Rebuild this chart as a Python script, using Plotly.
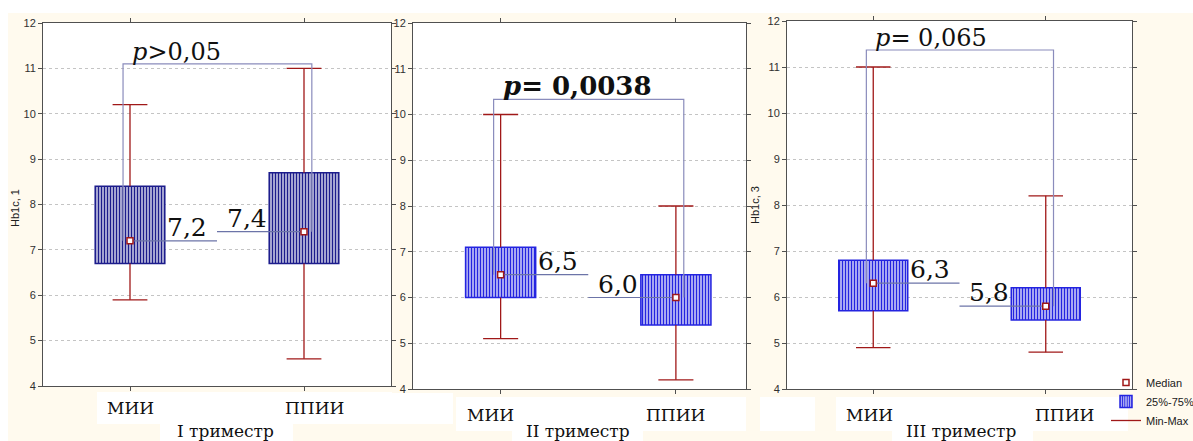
import plotly.graph_objects as go

# ---------------- data ----------------
categories = ["МИИ", "ППИИ"]
trimesters = ["I триместр", "II триместр", "III триместр"]
y_titles = ["Hb1c, 1", "", "Hb1c, 3"]

q1_values = [[6.7, 6.7], [6.0, 5.4], [5.7, 5.5]]
q3_values = [[8.4, 8.7], [7.1, 6.5], [6.8, 6.2]]
median_values = [[7.2, 7.4], [6.5, 6.0], [6.3, 5.8]]
min_values = [[5.9, 4.6], [5.1, 4.2], [4.9, 4.8]]
max_values = [[10.2, 11.0], [10.0, 8.0], [11.0, 8.2]]
median_labels = [["7,2", "7,4"], ["6,5", "6,0"], ["6,3", "5,8"]]

p_labels = ["<i>p</i>>0,05", "<b><i>p</i>= 0,0038</b>", "<i>p</i>= 0,065"]
bracket_levels = [11.1, 10.33, 11.37]

y_ticks = [4, 5, 6, 7, 8, 9, 10, 11, 12]

# ---------------- layout constants ----------------
W, H = 1193, 441


def px(x):
    return x / W


def py(y):
    return 1 - y / H


PANELS = [
    dict(l=43, r=391, t=23, b=386, xr=[-0.5, 1.5]),
    dict(l=413, r=746, t=23, b=389, xr=[-0.5, 1.4]),
    dict(l=787, r=1132, t=21, b=389, xr=[-0.5, 1.5]),
]
BOX_COLORS = ["#1c1c8c", "#2424e0", "#2424e0"]
BOX_BG = ["#ffffff", "#ffffff", "#ffffff"]
WHISKER = "#a01818"
BRACKET = "#8a8cbc"
CONNECT = "#6c74a8"
CAP = 0.1
BOX_W = 0.4
CAT_DX = [[0.0, 0.06], [-0.06, 0.0], [-0.02, 0.11]]
TRI_X = [0.55, 0.44, 0.51]
CAT_Y = [408, 415, 415]
SERIF = "DejaVu Serif"
SANS = "Liberation Sans"

fig = go.Figure()
annotations = []
shapes = []

for k in range(3):
    xa = "x" if k == 0 else f"x{k+1}"
    ya = "y" if k == 0 else f"y{k+1}"
    q1, q3 = q1_values[k], q3_values[k]
    med, mn, mx = median_values[k], min_values[k], max_values[k]

    # whiskers (outside the box only)
    wx, wy = [], []
    for i in range(2):
        wx += [i, i, None, i - CAP, i + CAP, None, i, i, None, i - CAP, i + CAP, None]
        wy += [q3[i], mx[i], None, mx[i], mx[i], None, q1[i], mn[i], None, mn[i], mn[i], None]
    fig.add_trace(go.Scatter(
        x=wx, y=wy, mode="lines", line=dict(color=WHISKER, width=1.3),
        xaxis=xa, yaxis=ya, name="Min-Max", showlegend=(k == 0),
        legendrank=3, hoverinfo="skip"))

    # boxes 25%-75%
    fig.add_trace(go.Bar(
        x=[0, 1], y=[q3[i] - q1[i] for i in range(2)], base=q1, width=BOX_W,
        marker=dict(color=BOX_BG[k],
                    line=dict(color=BOX_COLORS[k], width=1.5),
                    pattern=dict(shape="|", fgcolor=BOX_COLORS[k], bgcolor=BOX_BG[k],
                                 size=3, solidity=0.6, fillmode="replace")),
        xaxis=xa, yaxis=ya, name="25%-75%", showlegend=(k == 1), legendrank=2,
        hoverinfo="skip"))

    # significance bracket
    fig.add_trace(go.Scatter(
        x=[-0.04, -0.04, 1.045, 1.045],
        y=[med[0], bracket_levels[k], bracket_levels[k], med[1]],
        mode="lines", line=dict(color=BRACKET, width=1.2),
        xaxis=xa, yaxis=ya, showlegend=False, hoverinfo="skip"))

    # median connectors
    fig.add_trace(go.Scatter(
        x=[0, 0.5, None, 0.5, 1], y=[med[0], med[0], None, med[1], med[1]],
        mode="lines", line=dict(color=CONNECT, width=1.2),
        xaxis=xa, yaxis=ya, showlegend=False, hoverinfo="skip"))

    # medians
    fig.add_trace(go.Scatter(
        x=[0, 1], y=med, mode="markers",
        marker=dict(symbol="square", size=6, color="white",
                    line=dict(color=WHISKER, width=1.5)),
        xaxis=xa, yaxis=ya, name="Median", showlegend=(k == 0), legendrank=1,
        hoverinfo="skip"))

    P = PANELS[k]
    axis_common = dict(showline=True, linecolor="#505050", linewidth=1, mirror="allticks",
                       ticks="outside", ticklen=4, tickcolor="#505050")
    fig.update_layout(**{
        ("xaxis" if k == 0 else f"xaxis{k+1}"): dict(
            domain=[px(P["l"]), px(P["r"])], range=P["xr"], anchor=ya,
            tickvals=[0, 1], showticklabels=False, showgrid=False, zeroline=False,
            **axis_common),
        ("yaxis" if k == 0 else f"yaxis{k+1}"): dict(
            domain=[py(P["b"]), py(P["t"])], range=[4, 12], anchor=xa,
            tickvals=y_ticks, showgrid=True, gridcolor="#c4c4c4", griddash="dot",
            gridwidth=1, zeroline=False,
            tickfont=dict(family=SANS, size=11, color="#303030"), **axis_common),
    })

    # median value labels
    for i, lx in enumerate([0.33, 0.67]):
        annotations.append(dict(
            x=lx, y=med[i], xref=xa, yref=ya, text=median_labels[k][i],
            showarrow=False, xanchor="center", yanchor="bottom", yshift=-3,
            font=dict(family=SERIF, size=25, color="#101010")))

    # p-value label
    annotations.append(dict(
        x=0.0, y=bracket_levels[k], xref=xa, yref=ya, text=p_labels[k],
        showarrow=False, xanchor="left", yanchor="bottom", yshift=-4,
        font=dict(family=SERIF, size=26 if k == 1 else 24, color="#101010")))

    # category labels
    for i, cat in enumerate(categories):
        annotations.append(dict(
            x=i + CAT_DX[k][i], y=py(CAT_Y[k]), xref=xa, yref="paper", text=cat,
            showarrow=False, xanchor="center", yanchor="middle",
            font=dict(family=SERIF, size=17, color="#101010")))

    # trimester label
    annotations.append(dict(
        x=TRI_X[k], y=py(431), xref=xa, yref="paper", text=trimesters[k],
        showarrow=False, xanchor="center", yanchor="middle",
        font=dict(family=SERIF, size=17, color="#101010")))

# y-axis titles
for k, (tx, ty) in enumerate([(15, 208), (None, None), (755, 205)]):
    if y_titles[k]:
        annotations.append(dict(
            x=px(tx), y=py(ty), xref="paper", yref="paper", text=y_titles[k],
            textangle=-90, showarrow=False, xanchor="center", yanchor="middle",
            font=dict(family=SANS, size=11, color="#202020")))

# background white patches (paper)
white_rects = [
    (0, 0, W, 13), (0, 0, 8, H),
    (97, 392, 392, 424), (160, 424, 293, H),
    (392, 393, 453, 424), (456, 397, 746, 431), (512, 431, 643, H),
    (760, 397, 815, 431), (836, 397, 1128, 431), (892, 431, 1033, H),
]
for (x0, y0, x1, y1) in white_rects:
    shapes.append(dict(type="rect", xref="paper", yref="paper",
                       x0=px(x0), x1=px(x1), y0=py(y1), y1=py(y0),
                       fillcolor="white", line=dict(width=0), layer="below"))

fig.update_layout(
    width=W, height=H,
    margin=dict(l=0, r=0, t=0, b=0, autoexpand=False),
    paper_bgcolor="#fffaee", plot_bgcolor="white",
    barmode="overlay",
    annotations=annotations, shapes=shapes,
    showlegend=True,
    legend=dict(x=px(1106), y=py(368), xanchor="left", yanchor="top",
                bgcolor="rgba(0,0,0,0)", font=dict(family=SANS, size=11, color="#202020"),
                itemwidth=30, tracegroupgap=0, traceorder="normal"),
)

fig.write_html("out.html")
